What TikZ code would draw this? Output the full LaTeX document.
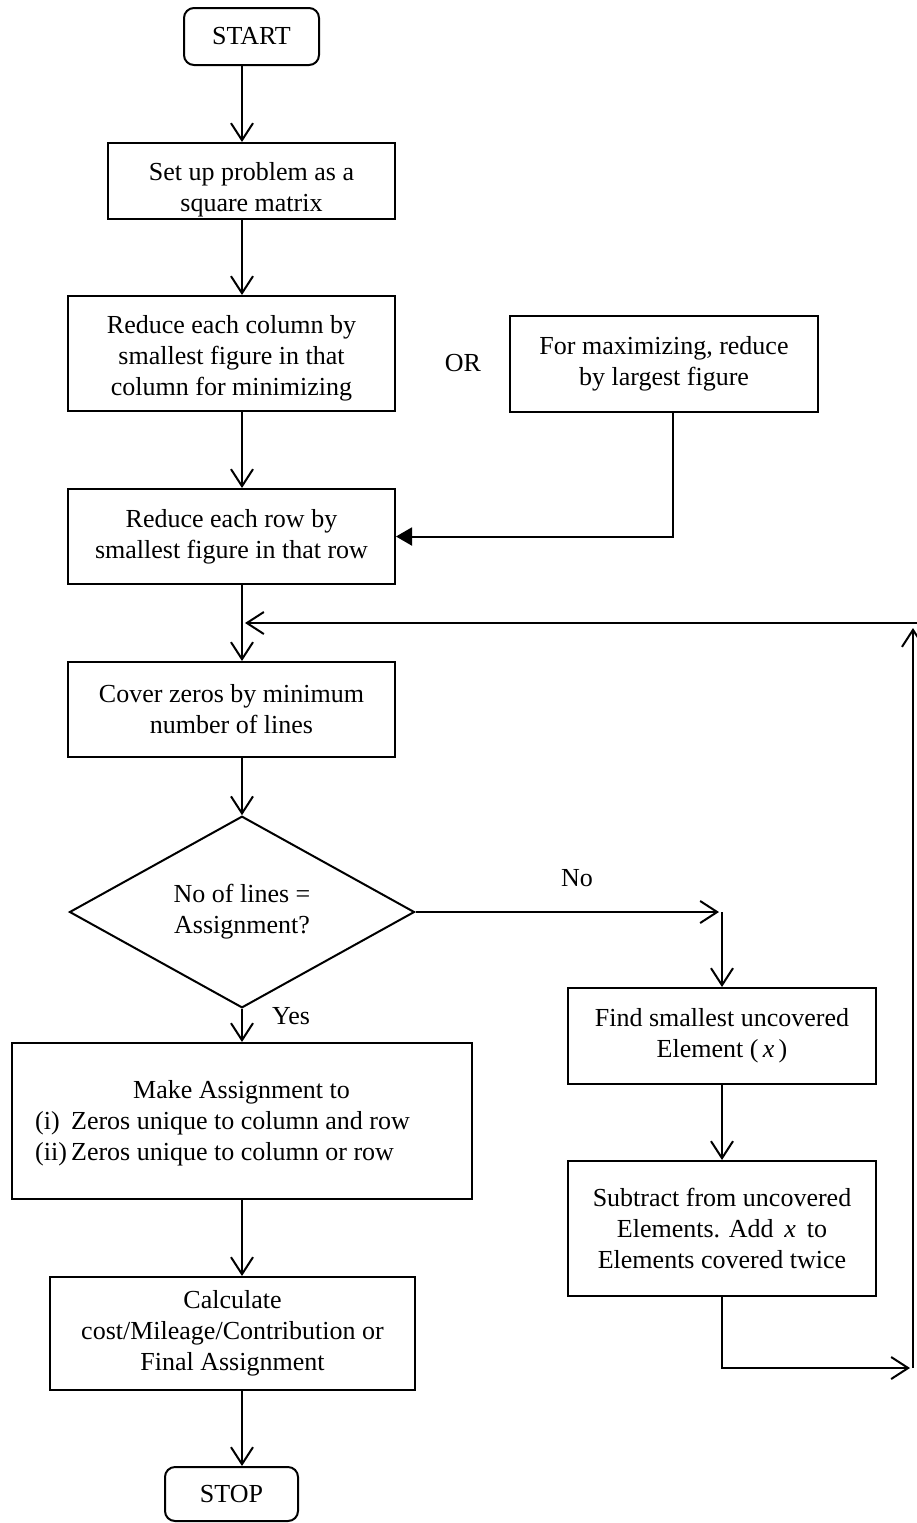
\documentclass[tikz,border=0pt]{standalone}
\usepackage{fontspec}
\setmainfont{Liberation Serif}
\usetikzlibrary{arrows.meta,shapes.geometric}
\newcommand\dropby[1]{\rule{0pt}{\dimexpr 9pt+#1\relax}}
\begin{document}
\begin{tikzpicture}[x=0.5pt,y=-0.5pt,
  font=\fontsize{13}{15.5}\selectfont,
  box/.style={draw, line width=1pt, align=center, inner sep=0pt},
  term/.style={box, rounded corners=5pt},
  arr/.style={line width=1pt, -{Straight Barb[length=8.5pt,width=11pt,line width=1pt]}},
  farr/.style={line width=1pt, -{Triangle[length=8pt,width=9pt]}},
  lbl/.style={inner sep=0pt}]
\useasboundingbox (0,0) rectangle (917,1523);
\coordinate (ax) at (242,0);
\coordinate (mx) at (673,0);
% left column
\node[term, minimum width=67.5pt, minimum height=28.5pt] (start) at (251.5,36.5) {START};
\node[box, minimum width=143.5pt, minimum height=38pt] (setup) at (251.5,181) {\dropby{9pt}Set up problem as a\\square matrix};
\node[box, minimum width=163.5pt, minimum height=57.5pt] (colred) at (231.5,353.5) {\dropby{4.5pt}Reduce each column by\\smallest figure in that\\column for minimizing};
\node[lbl] (or) at (463,363) {OR};
\node[box, minimum width=154pt, minimum height=48pt] (maxbox) at (664,364) {For maximizing, reduce\\by largest figure};
\node[box, minimum width=163.5pt, minimum height=47.5pt] (rowred) at (231.5,536.5) {Reduce each row by\\smallest figure in that row};
\node[box, minimum width=163.5pt, minimum height=47.5pt] (cover) at (231.5,709.5) {Cover zeros by minimum\\number of lines};
\node[draw, line width=1pt, shape=diamond, align=center, inner sep=0pt, minimum width=172.5pt, minimum height=77pt] (dia) at (242,912) {No of lines =\\Assignment?};
\node[box, minimum width=230pt, minimum height=78pt] (assign) at (242,1121) {};
\node[lbl, align=left] (assignt) at (222.5,1123) {\begin{tabular}{@{}l@{}l@{}}\multicolumn{2}{c}{\hspace{19pt}Make Assignment to}\\\makebox[18pt][l]{(i)} & Zeros unique to column and row\\\makebox[18pt][l]{(ii)} & Zeros unique to column or row\end{tabular}};
\node[box, minimum width=182.5pt, minimum height=56.5pt] (calc) at (232.5,1333.5) {Calculate\\cost/Mileage/Contribution or\\Final Assignment};
\node[term, minimum width=66.5pt, minimum height=27pt] (stop) at (231.5,1494) {STOP};
% right column
\node[box, minimum width=154pt, minimum height=48pt] (find) at (722,1036) {Find smallest uncovered\\Element (\,\textit{x}\,)};
\node[box, minimum width=154pt, minimum height=67.5pt] (sub) at (722,1228.5) {Subtract from uncovered\\Elements. Add \,\textit{x}\, to\\Elements covered twice};
\node[lbl] (yes) at (291,1016) {Yes};
\node[lbl] (no) at (577,878) {No};
% helper coordinates
\coordinate (noend) at (719,912);
\coordinate (nocorner) at (722,912);
\coordinate (lc) at (910,1368);
\coordinate (lb) at (913,1368);
\coordinate (lt) at (913,628);
\coordinate (lr) at (917,623);
\coordinate (fb) at (245,623);
% connectors
\draw[arr] (start.south -| ax) -- (setup.north -| ax);
\draw[arr] (setup.south -| ax) -- (colred.north -| ax);
\draw[arr] (colred.south -| ax) -- (rowred.north -| ax);
\draw[arr] (rowred.south -| ax) -- (cover.north -| ax);
\draw[arr] (cover.south -| ax) -- (dia.north);
\draw[arr] (dia.south) -- (assign.north);
\draw[arr] (assign.south) -- (calc.north -| ax);
\draw[arr] (calc.south -| ax) -- (stop.north -| ax);
\draw[farr] (maxbox.south -| mx) |- (rowred.east);
\draw[arr] (dia.east) -- (noend);
\draw[arr] (nocorner) -- (find.north);
\draw[arr] (find.south) -- (sub.north);
\draw[arr] (sub.south) |- (lc);
\draw[arr] (lb) -- (lt);
\draw[arr] (lr) -- (fb);
\end{tikzpicture}
\end{document}
